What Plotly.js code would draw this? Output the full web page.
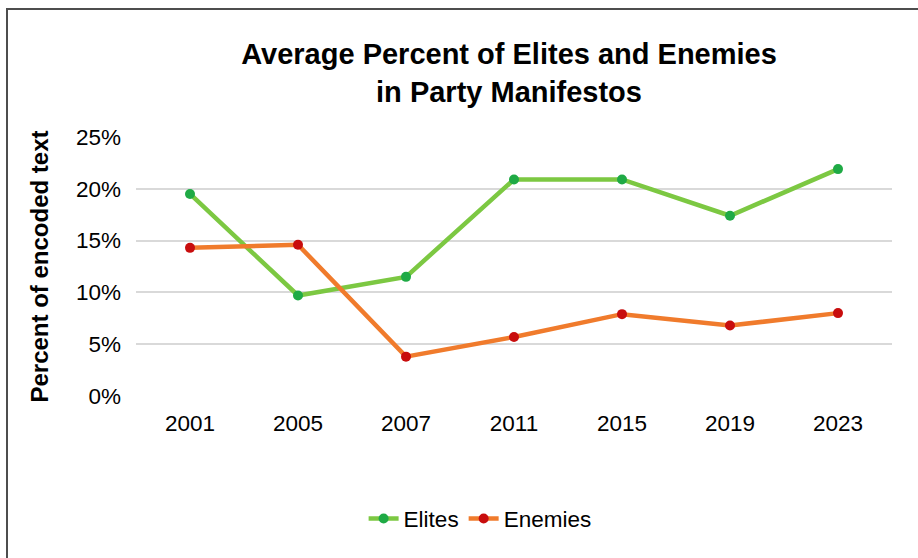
<!DOCTYPE html>
<html>
<head>
<meta charset="utf-8">
<script src="https://cdn.plot.ly/plotly-3.0.1.min.js"></script>
<style>
  html, body { margin: 0; padding: 0; background: #ffffff; }
  #wrap { position: relative; width: 918px; height: 558px; }
  #chart { position: absolute; left: 0; top: 0; width: 918px; height: 558px; }
  #frame { position: absolute; left: 6px; top: 8px; width: 920px; height: 560px;
           border-top: 2px solid #4d4d4d; border-left: 2px solid #4d4d4d;
           pointer-events: none; box-sizing: border-box; }
</style>
</head>
<body>
<div id="wrap">
  <div id="chart"></div>
  <div id="frame"></div>
</div>
<script>
const years = ['2001', '2005', '2007', '2011', '2015', '2019', '2023'];
const elites = [19.5, 9.7, 11.5, 20.9, 20.9, 17.4, 21.9];
const enemies = [14.3, 14.6, 3.8, 5.7, 7.9, 6.8, 8.0];
const yTicks = [0, 5, 10, 15, 20, 25];
const yTickLabels = ['0%', '5%', '10%', '15%', '20%', '25%'];

const font = 'Liberation Sans, Arial, sans-serif';

const traces = [
  {
    x: years, y: elites, name: 'Elites', type: 'scatter', mode: 'lines+markers',
    line: { color: '#7cc842', width: 4.5 },
    marker: { color: '#1faa45', size: 10 }
  },
  {
    x: years, y: enemies, name: 'Enemies', type: 'scatter', mode: 'lines+markers',
    line: { color: '#f07b2c', width: 4.5 },
    marker: { color: '#c80d0d', size: 10 }
  }
];

const layout = {
  width: 918, height: 558,
  margin: { l: 136, r: 26, t: 137, b: 162 },
  paper_bgcolor: '#ffffff', plot_bgcolor: '#ffffff',
  font: { family: font, color: '#000000', size: 22 },
  title: {
    text: 'Average Percent of Elites and Enemies<br>in Party Manifestos',
    font: { family: font, size: 29, color: '#000000', weight: 'bold' },
    xref: 'container', x: 0.5545, xanchor: 'center',
    yref: 'container', y: 0.885, yanchor: 'top'
  },
  xaxis: {
    type: 'category', range: [-0.5, 6.5],
    showgrid: false, zeroline: false, showline: false, ticks: '',
    tickfont: { family: font, size: 22.5, color: '#000000' },
    ticklabelstandoff: 11, fixedrange: true
  },
  yaxis: {
    range: [0, 25], tickvals: yTicks, ticktext: yTickLabels,
    showgrid: true, gridcolor: '#d9d9d9', gridwidth: 2,
    zeroline: false, showline: false, ticks: '',
    tickfont: { family: font, size: 22.5, color: '#000000' },
    ticklabelstandoff: 14,
    title: { text: 'Percent of encoded text', font: { family: font, size: 24, color: '#000000', weight: 'bold' }, standoff: 20 },
    fixedrange: true
  },
  showlegend: true,
  legend: {
    orientation: 'h', xref: 'container', x: 0.523, xanchor: 'center',
    yref: 'container', y: 0.07, yanchor: 'middle',
    font: { family: font, size: 22.5, color: '#000000' },
    itemwidth: 30, tracegroupgap: 0, bgcolor: 'rgba(0,0,0,0)'
  }
};

Plotly.newPlot('chart', traces, layout, { displayModeBar: false, staticPlot: true });
</script>
</body>
</html>
